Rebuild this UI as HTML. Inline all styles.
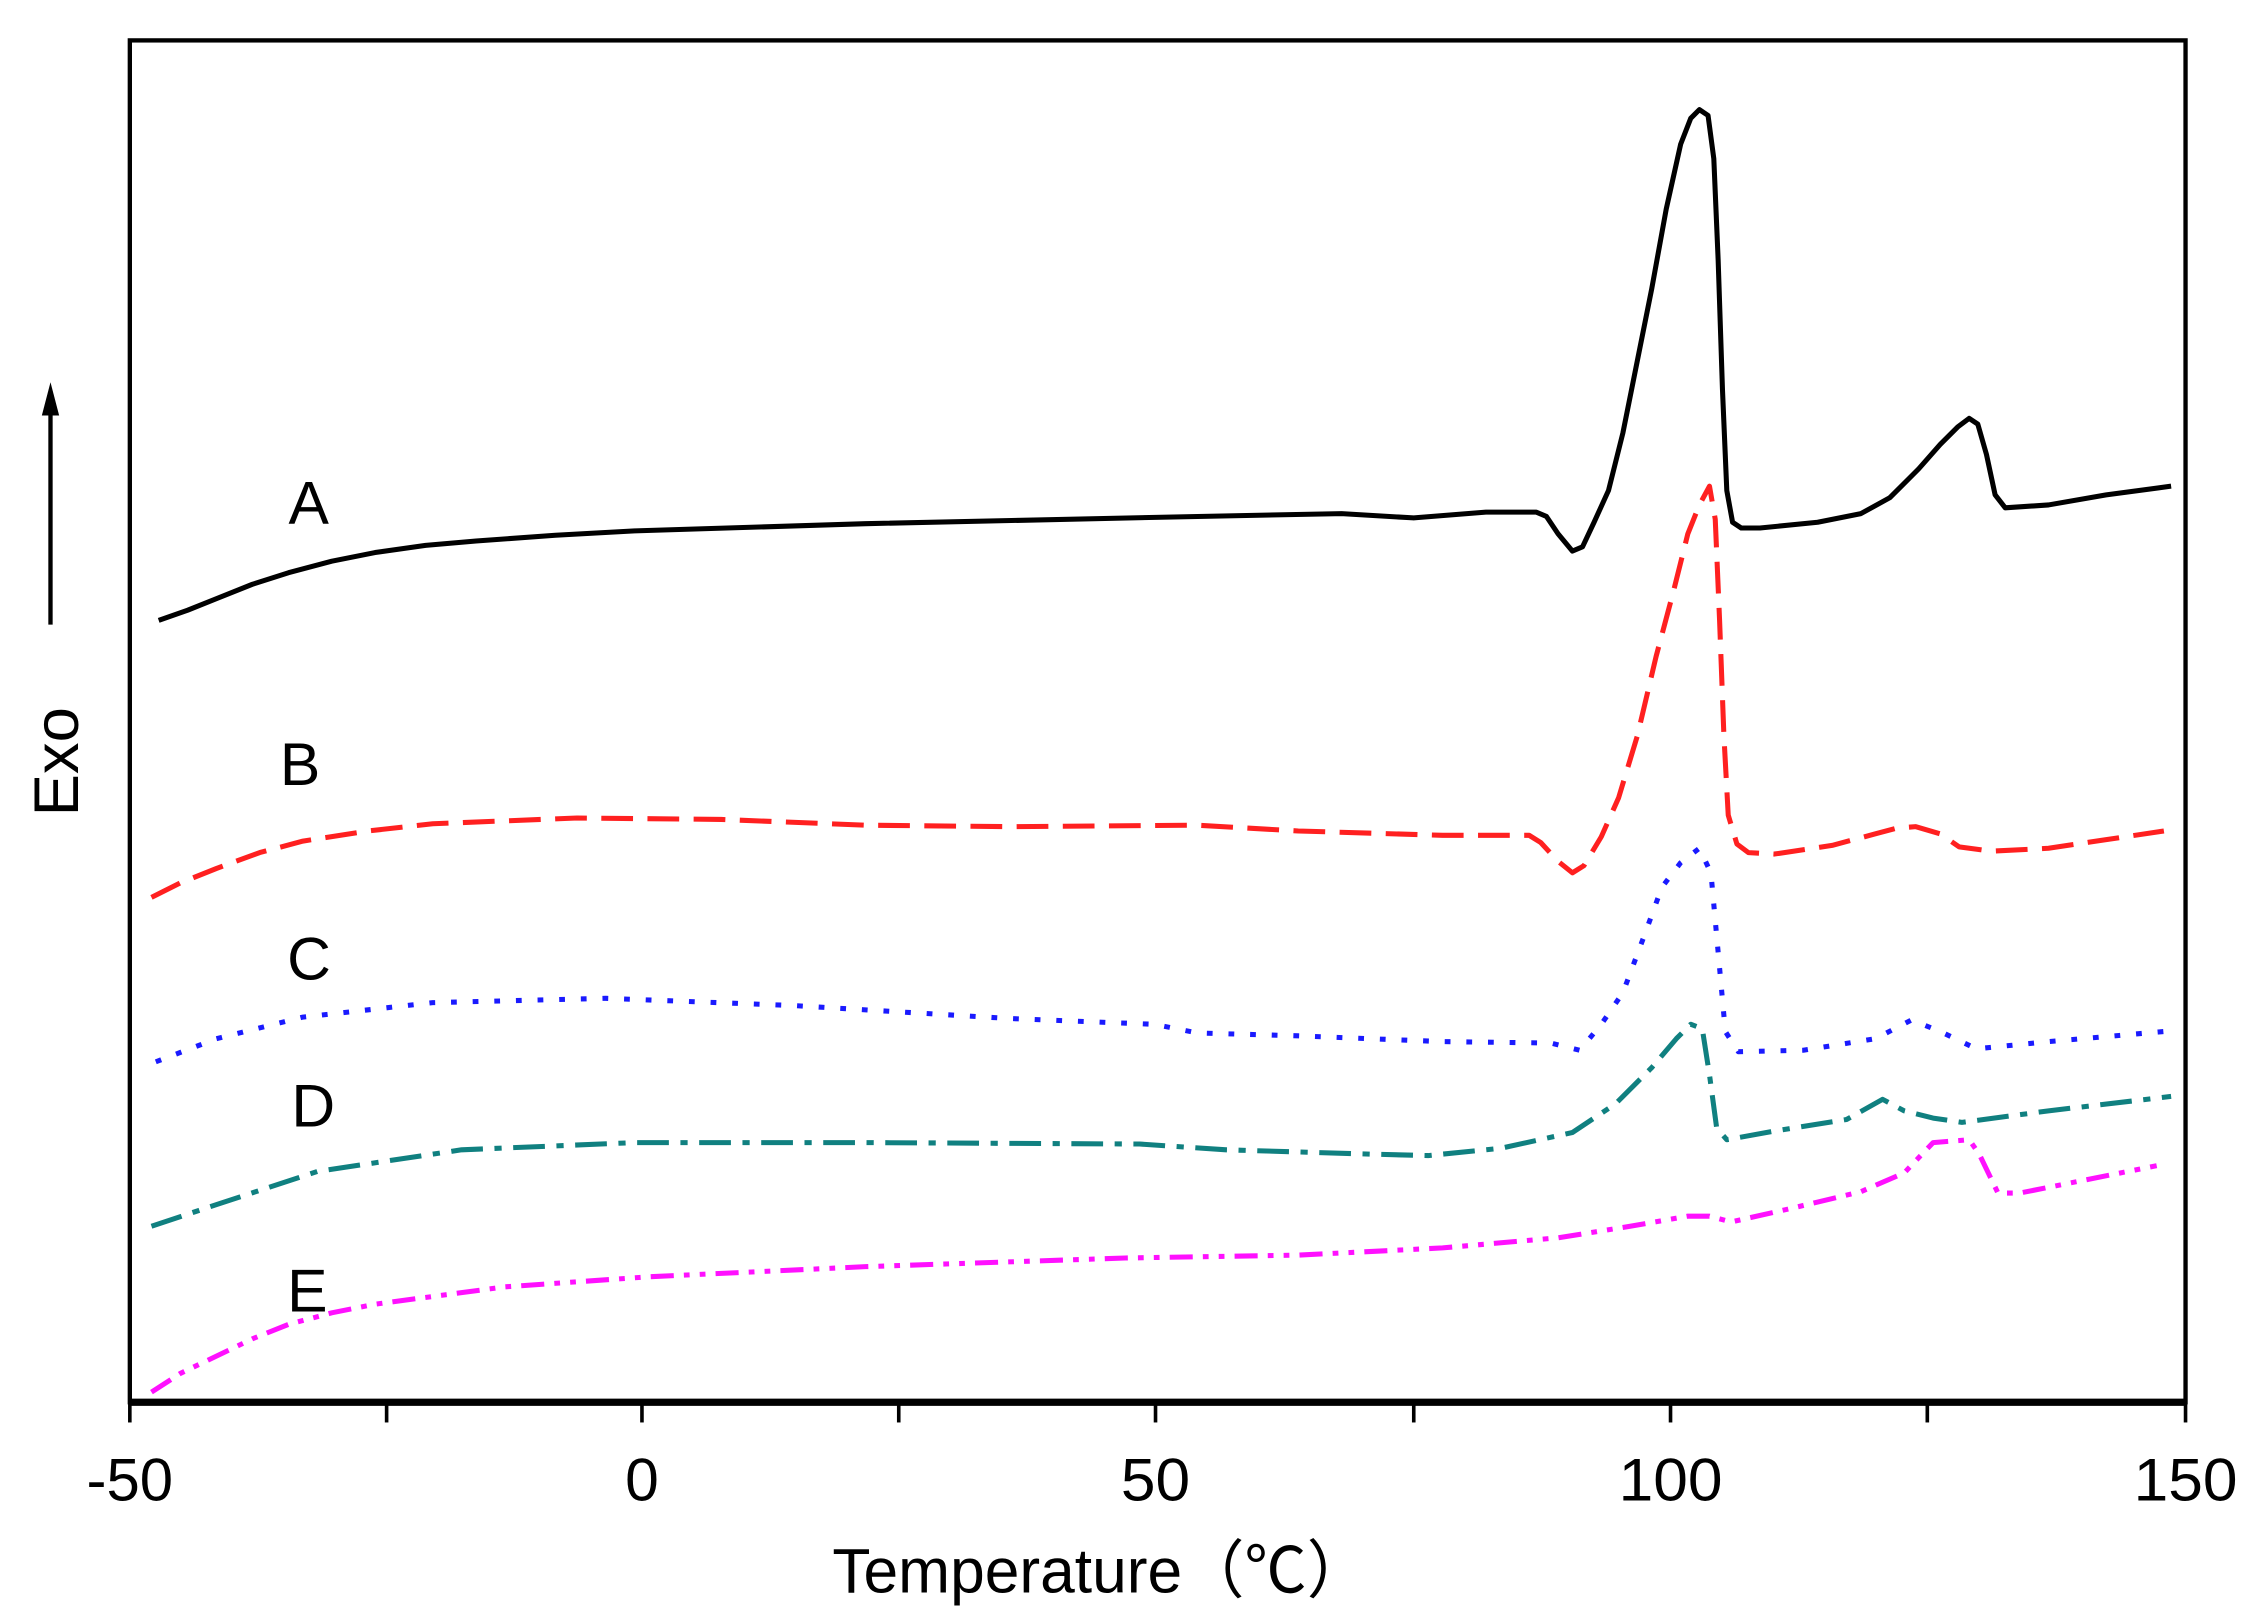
<!DOCTYPE html>
<html><head><meta charset="utf-8"><style>
html,body{margin:0;padding:0;background:#fff;}
svg{display:block;}
text{font-family:"Liberation Sans",sans-serif;}
</style></head><body>
<svg width="2262" height="1623" viewBox="0 0 1568 1125" preserveAspectRatio="none" xmlns="http://www.w3.org/2000/svg">
<rect x="0" y="0" width="1568" height="1125" fill="#fff"/>
<rect x="90" y="28" width="1425" height="944" fill="none" stroke="#000" stroke-width="3"/>
<line x1="90" y1="972" x2="1515" y2="972" stroke="#000" stroke-width="5"/>
<g stroke="#000" stroke-width="2.5">
<line x1="90" y1="972" x2="90" y2="986"/><line x1="268" y1="972" x2="268" y2="986"/>
<line x1="445" y1="972" x2="445" y2="986"/><line x1="623" y1="972" x2="623" y2="986"/>
<line x1="801" y1="972" x2="801" y2="986"/><line x1="980" y1="972" x2="980" y2="986"/>
<line x1="1158" y1="972" x2="1158" y2="986"/><line x1="1336" y1="972" x2="1336" y2="986"/>
<line x1="1515" y1="972" x2="1515" y2="986"/>
</g>
<g font-size="42" text-anchor="middle" fill="#000">
<text x="90" y="1040" textLength="60" lengthAdjust="spacingAndGlyphs">-50</text>
<text x="445" y="1040">0</text>
<text x="801" y="1040" textLength="48" lengthAdjust="spacingAndGlyphs">50</text>
<text x="1158" y="1040" textLength="72" lengthAdjust="spacingAndGlyphs">100</text>
<text x="1515" y="1040" textLength="72" lengthAdjust="spacingAndGlyphs">150</text>
</g>
<text x="763" y="1104" font-size="44" text-anchor="middle" textLength="372" lengthAdjust="spacingAndGlyphs">Temperature（℃）</text>
<text transform="translate(54,528) rotate(-90)" font-size="44" text-anchor="middle">Exo</text>
<line x1="35" y1="433" x2="35" y2="285" stroke="#000" stroke-width="3"/>
<polygon points="35,265 29,288 41,288" fill="#000"/>
<g font-size="42" fill="#000">
<text x="200" y="363">A</text><text x="194" y="544">B</text><text x="199" y="679">C</text>
<text x="202" y="781">D</text><text x="199" y="909">E</text>
</g>
<g fill="none" stroke-width="3.5" stroke-linejoin="round" stroke-linecap="butt">
<polyline stroke="#000" points="110,430 130,423 150,415 175,405 200,397 230,389 260,383 295,378 330,375 385,371 440,368 600,363 830,358 930,356 980,359 1030,355 1065,355 1072,358 1080,370 1090,382 1097,379 1105,362 1115,340 1125,300 1135,250 1145,200 1155,145 1165,100 1172,82 1178,76 1184,80 1188,110 1191,180 1194,270 1197,340 1201,362 1207,366 1220,366 1260,362 1290,356 1310,345 1330,325 1345,308 1357,296 1365,290 1371,294 1377,315 1383,343 1390,352 1420,350 1460,343 1505,337"/>
<polyline stroke="#ff2020" stroke-dasharray="22,10" points="105,622 125,612 150,602 180,591 210,583 255,576 300,571 400,567 500,568 600,572 700,573 830,572 900,576 1000,579 1060,579 1068,584 1080,597 1090,605 1098,600 1110,580 1122,553 1135,510 1148,455 1160,410 1170,370 1178,350 1185,337 1189,360 1192,430 1195,510 1198,565 1204,585 1212,591 1230,592 1270,586 1300,578 1315,574 1328,573 1345,578 1358,587 1380,590 1420,588 1460,582 1500,576"/>
<polyline stroke="#1a1aff" stroke-dasharray="4,11" points="108,736 150,720 210,705 300,695 420,692 550,697 700,706 800,710 830,716 900,718 1000,722 1075,723 1095,728 1110,710 1125,688 1140,648 1152,615 1165,598 1178,588 1186,605 1191,660 1196,715 1205,729 1250,728 1300,720 1325,707 1345,715 1370,727 1420,722 1500,715"/>
<polyline stroke="#108080" stroke-dasharray="22,8,5,8" points="105,850 150,835 220,812 320,797 440,792 600,792 790,793 850,797 950,800 990,801 1040,796 1090,785 1120,765 1145,740 1162,720 1172,710 1180,713 1185,745 1190,782 1197,790 1230,784 1280,776 1305,762 1320,770 1340,775 1360,778 1420,770 1505,760"/>
<polyline stroke="#ff10ff" stroke-dasharray="16,7,4,7,4,7" points="105,965 125,952 150,940 175,928 200,918 230,910 260,904 350,892 450,885 600,878 780,872 900,870 1000,865 1080,858 1130,850 1170,843 1185,843 1200,847 1240,838 1290,826 1320,813 1340,792 1365,790 1372,800 1385,827 1400,827 1440,819 1495,808"/>
</g>
</svg>
</body></html>
